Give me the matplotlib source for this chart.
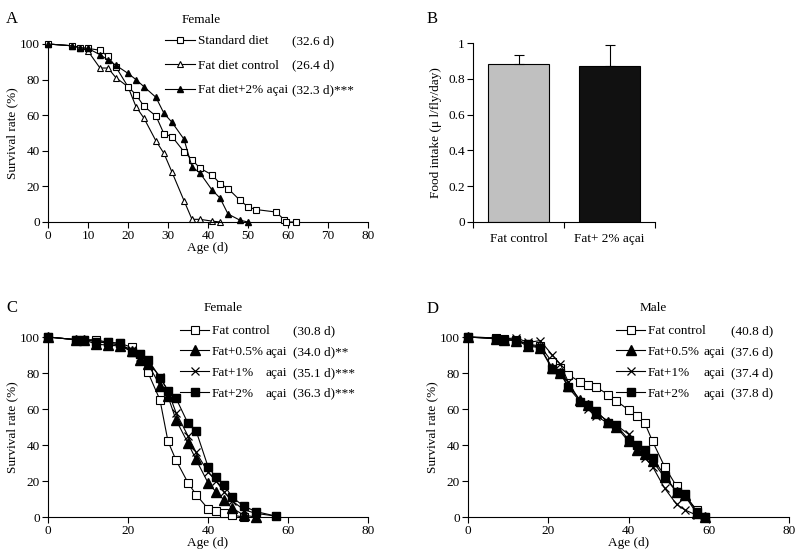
import matplotlib
matplotlib.use("Agg")
import matplotlib.pyplot as plt

plt.rcParams['font.family'] = ['Liberation Serif', 'DejaVu Serif']
plt.rcParams['font.size'] = 9.5

# --- Panel A: female survival, standard vs fat diet ---
a_std_age = [0, 6, 8, 10, 13, 15, 17, 20, 22, 24, 27, 29, 31, 34, 36, 38, 41, 43, 45, 48, 50, 52, 57, 59, 59.5, 62]
a_std_surv = [100, 99, 98, 97.5, 96.5, 93, 87, 76, 71.5, 65, 59.5, 49.5, 48, 39.5, 35, 30.2, 26.5, 21.6, 18.8, 12.2, 8.5, 7, 5.6, 1.4, 0, 0]
a_fat_age = [0, 6, 8, 10, 13, 15, 17, 20, 22, 24, 27, 29, 31, 34, 36, 38, 41, 43]
a_fat_surv = [100, 99, 98, 96, 86.5, 86.5, 81, 76, 64.8, 58.3, 45.5, 38.5, 28, 12, 1.5, 1.5, 0.5, 0]
a_acai_age = [0, 6, 8, 10, 13, 15, 17, 20, 22, 24, 27, 29, 31, 34, 36, 38, 41, 43, 45, 48, 50]
a_acai_surv = [100, 99, 98, 97.5, 94, 91, 88, 83.5, 80, 76, 70, 61, 56, 46.5, 31, 27.5, 18, 13.5, 4.5, 1, 0]
a_names = ["Standard diet", "Fat diet control", "Fat diet+2% açai"]
a_means = ["(32.6 d)", "(26.4 d)", "(32.3 d)***"]

# --- Panel B: food intake ---
b_groups = ["Fat control", "Fat+ 2% açai"]
b_intake = [0.885, 0.87]
b_err = [0.05, 0.12]

# --- Panel C: female, acai doses ---
c_age = [0, 7, 9, 12, 15, 18, 21, 23, 25, 28, 30, 32, 35, 37, 40, 42, 44, 46, 49, 52, 57]
c_fc_surv = [100, 98.5, 98.5, 98.5, 97, 96.5, 94.2, 90.5, 80.3, 65, 42, 31.6, 19, 12.5, 4.6, 3.2, 2, 1, 0]
c_05_surv = [100, 98.5, 98.5, 96, 95.5, 95, 92, 87, 85, 73, 67, 54, 41, 32, 19, 14, 9.5, 5, 1, 0]
c_1_surv = [100, 98.5, 98.5, 97.5, 96.5, 95.5, 93, 89, 86, 78, 70, 58, 45, 36, 25, 20, 14, 9, 4, 2, 0.5]
c_2_surv = [100, 98.5, 98.5, 97.5, 97, 96.5, 91.5, 90.5, 87.5, 77.5, 70, 66, 52, 48, 28, 22, 18, 11, 6, 3, 0.5]
c_names = ["Fat control", "Fat+0.5%", "Fat+1%", "Fat+2%"]
c_acai = ["", "açai", "açai", "açai"]
c_means = ["(30.8 d)", "(34.0 d)**", "(35.1 d)***", "(36.3 d)***"]

# --- Panel D: male, acai doses ---
d_age = [0, 7, 9, 12, 15, 18, 21, 23, 25, 28, 30, 32, 35, 37, 40, 42, 44, 46, 49, 52, 54, 57, 59]
d_fc_surv = [100, 99.5, 99, 98.5, 96, 95, 86, 83, 79, 75, 73.5, 72, 68, 64.5, 59.5, 56, 52.5, 42, 28, 17, 12, 4, 0]
d_05_surv = [100, 99, 98.5, 98, 95, 94, 83, 80, 73, 65, 62, 58, 53, 50, 42, 37, 35, 31, 22, 14, 12, 2, 0]
d_1_surv = [100, 99.5, 99, 99.5, 97, 98, 90, 85, 75, 64, 60, 56, 52, 51, 46, 40, 33, 28, 16, 7, 4, 1, 0]
d_2_surv = [100, 99, 98.5, 98, 96, 94, 82, 80, 72, 64, 62, 59, 52, 51, 43, 40, 37, 33, 23, 14, 13, 3, 0]
d_names = ["Fat control", "Fat+0.5%", "Fat+1%", "Fat+2%"]
d_acai = ["", "açai", "açai", "açai"]
d_means = ["(40.8 d)", "(37.6 d)", "(37.4 d)", "(37.8 d)"]

W, H = 800, 557
fig = plt.figure(figsize=(W / 100, H / 100), dpi=100)


def px(x, y):
    # pixel (from top-left) -> figure fraction
    return x / W, 1 - y / H


def style_axes(ax):
    for s in ['top', 'right']:
        ax.spines[s].set_visible(False)
    for s in ['left', 'bottom']:
        ax.spines[s].set_linewidth(0.8)
    ax.tick_params(direction='out', length=4, width=0.8, pad=2, labelsize=9.5)


def survival_axes(rect, xstep):
    ax = fig.add_axes(rect)
    style_axes(ax)
    ax.set_xlim(0, 80)
    ax.set_ylim(0, 100)
    ax.set_xticks(range(0, 81, xstep))
    ax.set_yticks(range(0, 101, 20))
    ax.set_xlabel("Age (d)", labelpad=0)
    ax.set_ylabel("Survival rate (%)", labelpad=1)
    return ax


def add_legend(ax, handles, names, anchor, cols, extra, spacing, hlen):
    leg = ax.legend(handles, names, loc='upper left', bbox_to_anchor=px(*anchor),
                    bbox_transform=fig.transFigure, frameon=False, borderpad=0,
                    borderaxespad=0, handlelength=hlen, handletextpad=0.2,
                    labelspacing=spacing, numpoints=1, fontsize=9.5)
    fig.canvas.draw()
    # extra text columns lined up with the legend rows
    for i, t in enumerate(leg.get_texts()):
        bb = t.get_window_extent()
        yc = (bb.y0 + bb.y1) / 2 / H
        for col_x, col in zip(cols, extra):
            if col[i]:
                fig.text(col_x / W, yc, col[i], va='center', ha='left', fontsize=9.5)
    return leg


line_kw = dict(color='black', lw=0.8, clip_on=False)

# Panel A
axA = survival_axes([48 / W, 1 - 222 / H, 320 / W, 178 / H], 10)
hA = []
hA += axA.plot(a_std_age, a_std_surv, marker='s', ms=4.5, mfc='white', mec='black', mew=0.8, zorder=3, **line_kw)
hA += axA.plot(a_fat_age, a_fat_surv, marker='^', ms=5, mfc='white', mec='black', mew=0.8, zorder=2, **line_kw)
hA += axA.plot(a_acai_age, a_acai_surv, marker='^', ms=5, mfc='black', mec='black', zorder=4, **line_kw)
fig.text(*px(182, 20), "Female", va='center', ha='left', fontsize=9.5)
add_legend(axA, hA, a_names, (165, 35), [292], [a_means], 0.93, 2.3)

# Panel B
axB = fig.add_axes([473 / W, 1 - 222 / H, 182 / W, 179 / H])
style_axes(axB)
xb = range(len(b_groups))
axB.bar(xb, b_intake, width=0.68, color=['#c0c0c0', '#111111'], edgecolor='black', linewidth=0.8)
axB.errorbar(xb, b_intake, yerr=[[0] * len(b_err), b_err], fmt='none', ecolor='black',
             elinewidth=0.8, capsize=3.5, capthick=0.8)
axB.set_xlim(-0.5, 1.5)
axB.set_ylim(0, 1)
axB.set_yticks([0, 0.2, 0.4, 0.6, 0.8, 1])
axB.set_yticklabels(["0", "0.2", "0.4", "0.6", "0.8", "1"])
axB.set_xticks([-0.5, 0.5, 1.5])
axB.set_xticklabels([])
axB.set_xticks(list(xb), minor=True)
axB.set_xticklabels(b_groups, minor=True)
axB.tick_params(axis='x', which='minor', length=0, pad=8)
axB.set_ylabel("Food intake (μ l/fly/day)", labelpad=4)

# Panel C
axC = survival_axes([48 / W, 1 - 517 / H, 320 / W, 180 / H], 20)
hC = []
hC += axC.plot(c_age[:len(c_fc_surv)], c_fc_surv, marker='s', ms=6, mfc='white', mec='black', mew=0.8, zorder=3, **line_kw)
hC += axC.plot(c_age[:len(c_05_surv)], c_05_surv, marker='^', ms=7, mfc='black', mec='black', zorder=4, **line_kw)
hC += axC.plot(c_age[:len(c_1_surv)], c_1_surv, marker='x', ms=6, mec='black', mew=0.9, zorder=4, **line_kw)
hC += axC.plot(c_age[:len(c_2_surv)], c_2_surv, marker='s', ms=6, mfc='black', mec='black', zorder=5, **line_kw)
fig.text(*px(204, 308), "Female", va='center', ha='left', fontsize=9.5)
add_legend(axC, hC, c_names, (180, 325), [266, 293], [c_acai, c_means], 0.65, 2.2)

# Panel D
axD = survival_axes([468 / W, 1 - 517 / H, 321 / W, 180 / H], 20)
hD = []
hD += axD.plot(d_age, d_fc_surv, marker='s', ms=6, mfc='white', mec='black', mew=0.8, zorder=3, **line_kw)
hD += axD.plot(d_age, d_05_surv, marker='^', ms=7, mfc='black', mec='black', zorder=4, **line_kw)
hD += axD.plot(d_age, d_1_surv, marker='x', ms=6, mec='black', mew=0.9, zorder=4, **line_kw)
hD += axD.plot(d_age, d_2_surv, marker='s', ms=6, mfc='black', mec='black', zorder=5, **line_kw)
fig.text(*px(640, 308), "Male", va='center', ha='left', fontsize=9.5)
add_legend(axD, hD, d_names, (616, 325), [703, 731], [d_acai, d_means], 0.65, 2.2)

# panel letters
for letter, (x, y) in zip("ABCD", [(12, 19), (432, 19), (12, 308), (433, 309)]):
    fig.text(*px(x, y), letter, fontsize=12, va='center', ha='center')

fig.savefig("out.png", dpi=100)
